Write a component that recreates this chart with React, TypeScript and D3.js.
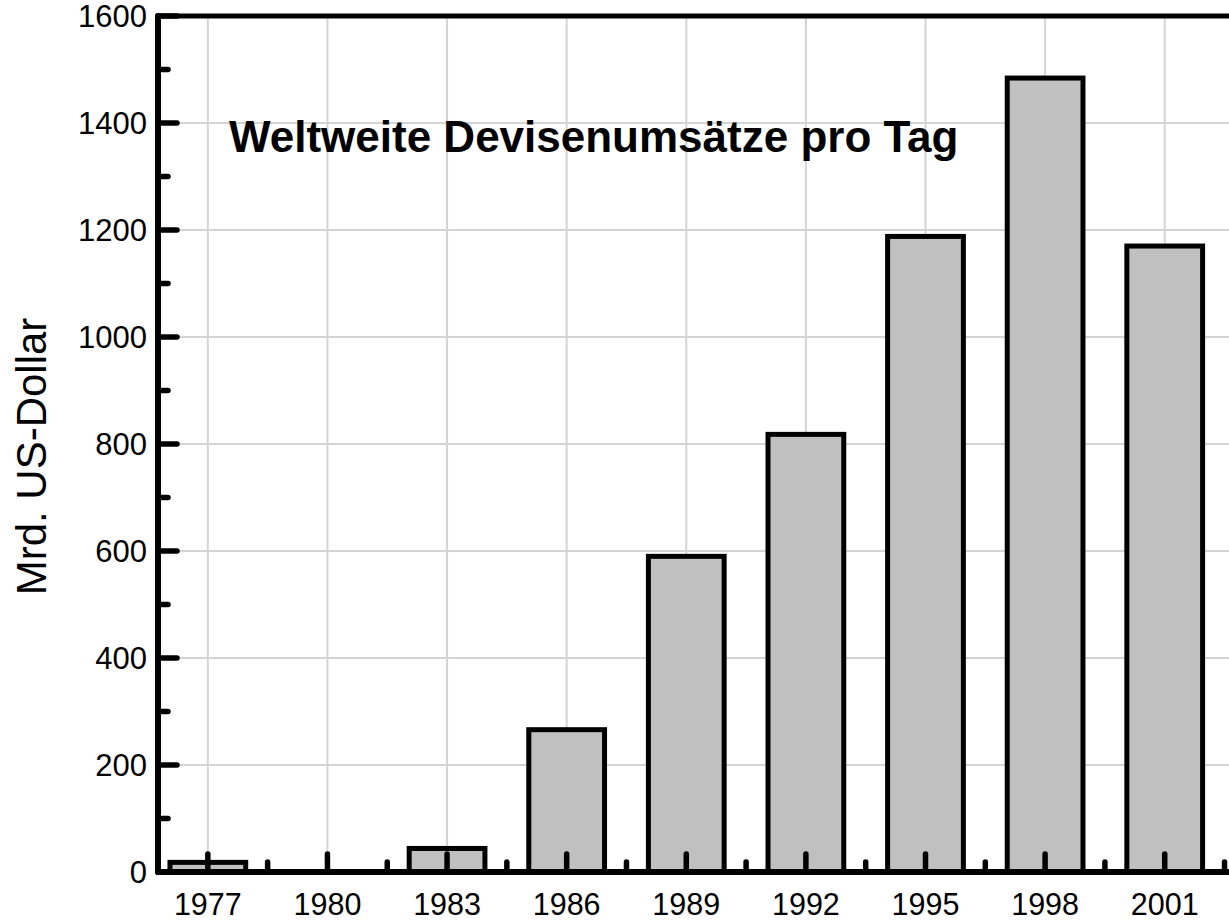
import * as d3 from "d3";
import { useEffect, useRef } from "react";

const YEARS = [1977, 1980, 1983, 1986, 1989, 1992, 1995, 1998, 2001];
const TURNOVER = [18, 0, 44, 266, 590, 818, 1188, 1484, 1170];
const Y_TICKS = [0, 200, 400, 600, 800, 1000, 1200, 1400, 1600];
const Y_MINOR = [100, 300, 500, 700, 900, 1100, 1300, 1500];
const X_MINOR = [1978.5, 1981.5, 1984.5, 1987.5, 1990.5, 1993.5, 1996.5, 1999.5, 2002.5];

const TITLE = "Weltweite Devisenumsätze pro Tag";
const Y_LABEL = "Mrd. US-Dollar";

const WIDTH = 1229;
const HEIGHT = 920;
const FONT = "'Liberation Sans', Arial, sans-serif";

export default function App() {
  const svgRef = useRef<SVGSVGElement>(null);

  useEffect(() => {
    if (!svgRef.current) return;
    const svg = d3.select(svgRef.current);
    svg.selectAll("*").remove();

    const left = 158;
    const top = 16;
    const bottom = 872;

    const x = d3.scaleLinear().domain([1975.75, 2003.5]).range([left, left + 27.75 * 39.87]);
    const y = d3.scaleLinear().domain([0, 1600]).range([bottom, top]);
    const right = x(2003.5);
    const barW = x(1.9) - x(0);

    const grid = svg.append("g").attr("stroke", "#d4d4d4").attr("stroke-width", 2);
    grid.selectAll("line.v")
      .data(YEARS)
      .join("line")
      .attr("class", "v")
      .attr("x1", (d) => x(d))
      .attr("x2", (d) => x(d))
      .attr("y1", top)
      .attr("y2", bottom);
    grid.selectAll("line.h")
      .data(Y_TICKS.slice(1, -1))
      .join("line")
      .attr("class", "h")
      .attr("x1", left)
      .attr("x2", right)
      .attr("y1", (d) => y(d))
      .attr("y2", (d) => y(d));

    const bars = YEARS.map((yr, i) => ({ yr, v: TURNOVER[i] })).filter((d) => d.v > 0);
    svg.append("g")
      .selectAll("rect")
      .data(bars)
      .join("rect")
      .attr("x", (d) => x(d.yr) - barW / 2)
      .attr("y", (d) => y(d.v))
      .attr("width", barW)
      .attr("height", (d) => bottom - y(d.v))
      .attr("fill", "#c0c0c0")
      .attr("stroke", "#000")
      .attr("stroke-width", 5);

    // axes frame
    const frame = svg.append("g").attr("stroke", "#000").attr("stroke-linecap", "round");
    frame.append("line").attr("x1", left).attr("x2", left).attr("y1", top).attr("y2", bottom).attr("stroke-width", 6);
    frame.append("line").attr("x1", left).attr("x2", right).attr("y1", bottom).attr("y2", bottom).attr("stroke-width", 6);
    frame.append("line").attr("x1", left).attr("x2", right).attr("y1", top).attr("y2", top).attr("stroke-width", 5);

    // y ticks
    frame.selectAll("line.ymaj")
      .data(Y_TICKS)
      .join("line")
      .attr("class", "ymaj")
      .attr("x1", left)
      .attr("x2", left + 19)
      .attr("y1", (d) => y(d))
      .attr("y2", (d) => y(d))
      .attr("stroke-width", 5.5);
    frame.selectAll("line.ymin")
      .data(Y_MINOR)
      .join("line")
      .attr("class", "ymin")
      .attr("x1", left)
      .attr("x2", left + 10)
      .attr("y1", (d) => y(d))
      .attr("y2", (d) => y(d))
      .attr("stroke-width", 5.5);

    // x ticks
    frame.selectAll("line.xmaj")
      .data(YEARS)
      .join("line")
      .attr("class", "xmaj")
      .attr("x1", (d) => x(d))
      .attr("x2", (d) => x(d))
      .attr("y1", bottom)
      .attr("y2", bottom - 18)
      .attr("stroke-width", 5.5);
    frame.selectAll("line.xmin")
      .data(X_MINOR)
      .join("line")
      .attr("class", "xmin")
      .attr("x1", (d) => x(d))
      .attr("x2", (d) => x(d))
      .attr("y1", bottom)
      .attr("y2", bottom - 10)
      .attr("stroke-width", 5.5);

    // labels
    svg.append("g")
      .selectAll("text")
      .data(Y_TICKS)
      .join("text")
      .attr("x", left - 11)
      .attr("y", (d) => y(d))
      .attr("dy", "0.36em")
      .attr("text-anchor", "end")
      .attr("font-family", FONT)
      .attr("font-size", 31)
      .text((d) => d);

    svg.append("g")
      .selectAll("text")
      .data(YEARS)
      .join("text")
      .attr("x", (d) => x(d))
      .attr("y", 915)
      .attr("text-anchor", "middle")
      .attr("font-family", FONT)
      .attr("font-size", 30.5)
      .text((d) => d);

    svg.append("text")
      .attr("transform", `translate(46,${(318 + 595) / 2}) rotate(-90)`)
      .attr("text-anchor", "middle")
      .attr("font-family", FONT)
      .attr("font-size", 42)
      .text(Y_LABEL);

    svg.append("text")
      .attr("x", 229)
      .attr("y", 152)
      .attr("font-family", FONT)
      .attr("font-weight", "bold")
      .attr("font-size", 44)
      .text(TITLE);
  }, []);

  return (
    <svg
      ref={svgRef}
      width={WIDTH}
      height={HEIGHT}
      style={{ position: "absolute", left: 0, top: 0, background: "#fff" }}
    />
  );
}
